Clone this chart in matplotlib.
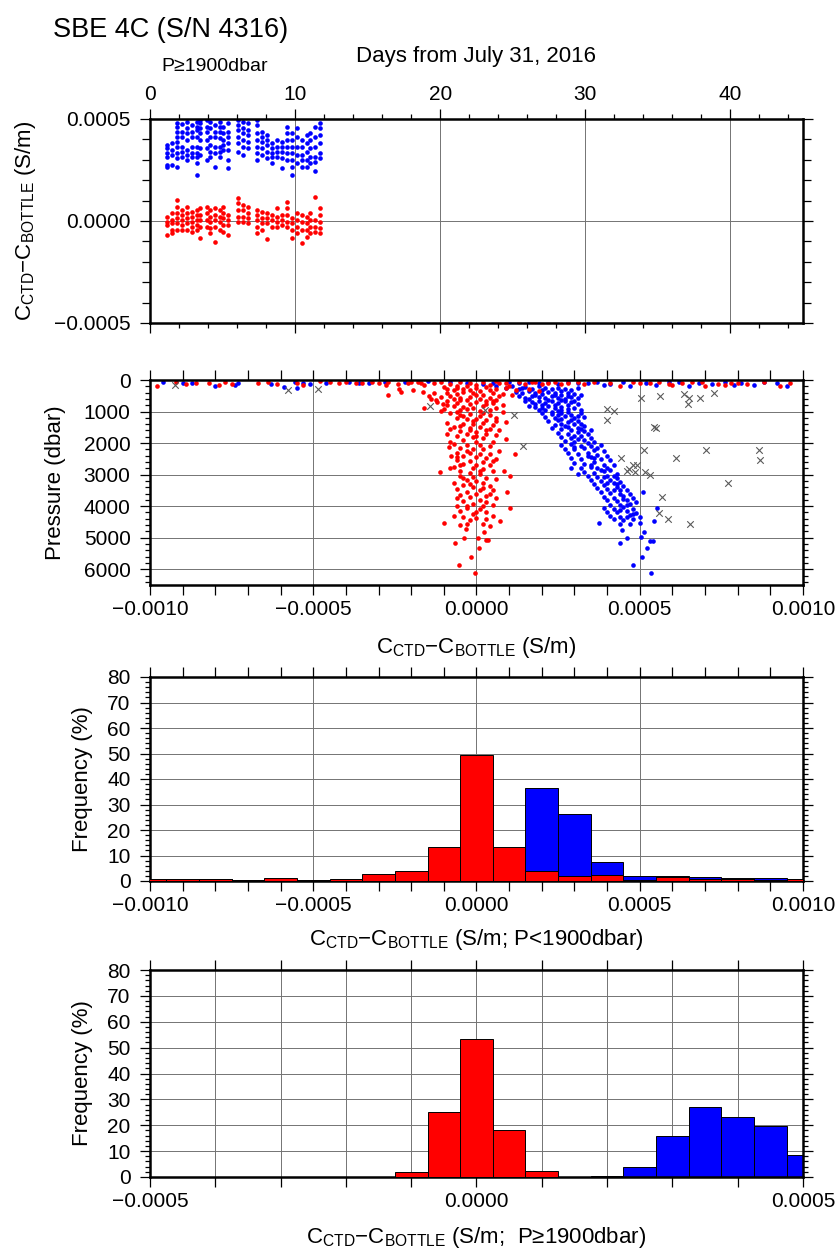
import numpy as np
import matplotlib
matplotlib.use('Agg')
import matplotlib.pyplot as plt
from matplotlib.ticker import MultipleLocator, FuncFormatter

plt.rcParams['font.family'] = ['Liberation Sans', 'DejaVu Sans']
plt.rcParams['mathtext.fontset'] = 'custom'
plt.rcParams['mathtext.rm'] = 'Liberation Sans'
plt.rcParams['mathtext.it'] = 'Liberation Sans:italic'
plt.rcParams['mathtext.bf'] = 'Liberation Sans:bold'

# %% data  (conductivity differences in 1e-4 S/m, pressure in dbar)

# panel 1: deep bottles (P >= 1900 dbar) per station, days from July 31, 2016
st_days = [1.15, 1.5, 1.84, 2.18, 2.53, 2.87, 3.22, 3.45, 3.91, 4.14, 4.48,
           4.83, 5.06, 5.40, 6.09, 6.44, 6.78, 7.36, 7.70, 8.05, 8.39, 8.74,
           9.08, 9.43, 9.77, 10.11, 10.46, 10.80, 11.03, 11.38, 11.72]
blue_deep = [
    [3.73, 3.56, 3.32, 3.15, 2.75, 2.63], [3.81, 3.48, 3.24, 2.75],
    [4.82, 4.62, 4.38, 4.13, 3.89, 3.64, 3.32, 3.07, 2.66],
    [4.75, 4.38, 4.13, 3.64, 3.40, 3.15], [4.87, 4.54, 4.30, 3.97, 3.48, 3.24, 2.99],
    [4.70, 4.38, 4.13, 3.64, 3.32, 3.15], [4.87, 4.62, 4.46, 4.13, 3.64, 3.32, 3.15, 2.83, 2.25],
    [4.95, 4.79, 4.54, 4.30, 3.97, 3.56, 3.24], [4.95, 4.62, 4.38, 3.97, 3.56, 2.99],
    [4.87, 4.54, 4.13, 3.73, 3.40, 3.15], [4.70, 4.38, 4.13, 3.64, 3.32, 2.66],
    [4.87, 4.62, 4.38, 4.05, 3.64, 3.40, 3.15], [4.62, 4.30, 3.97, 3.73, 3.48],
    [4.79, 4.38, 4.13, 3.81, 3.48, 2.99, 2.58], [4.95, 4.70, 4.46, 4.13, 3.81, 3.40],
    [4.87, 4.54, 4.30, 3.97, 3.64, 3.24], [4.79, 4.46, 4.21, 3.89, 3.56],
    [4.95, 4.70, 4.30, 3.97, 3.64, 3.32, 2.99], [4.38, 4.13, 3.89, 3.56, 3.24],
    [4.21, 3.97, 3.73, 3.40, 3.07], [3.81, 3.56, 3.32, 3.15, 2.83],
    [3.97, 3.64, 3.40, 3.15], [3.89, 3.64, 3.40, 3.07, 2.58],
    [4.62, 4.30, 3.97, 3.64, 3.32, 2.99], [4.30, 3.97, 3.64, 3.32, 2.99, 2.66, 2.25],
    [4.54, 4.13, 3.64, 3.24, 2.83], [3.97, 3.64, 3.24, 2.99, 2.66],
    [4.21, 3.81, 3.40, 2.99, 2.66], [4.30, 3.97, 3.56, 3.15, 2.83],
    [4.62, 4.13, 3.64, 3.15, 2.91, 2.47], [4.79, 4.54, 4.21, 3.81, 3.32, 3.07],
]
red_deep = [
    [0.21, -0.03, -0.20, -0.69], [0.38, 0.05, -0.11, -0.44, -0.60],
    [1.03, 0.70, 0.38, 0.13, -0.11, -0.44], [0.54, 0.29, 0.05, -0.20, -0.44],
    [0.70, 0.38, 0.13, -0.11, -0.44], [0.46, 0.21, -0.03, -0.28, -0.52],
    [0.54, 0.29, 0.05, -0.20, -0.44], [0.62, 0.29, 0.05, -0.28, -0.85],
    [0.70, 0.38, 0.05, -0.28], [0.54, 0.21, -0.03, -0.36, -0.60],
    [0.62, 0.29, 0.05, -0.28, -1.01], [0.54, 0.21, -0.03, -0.44],
    [0.70, 0.38, 0.13, -0.20, -0.52], [0.29, 0.05, -0.20, -0.69],
    [1.11, 0.87, 0.54, 0.21, -0.03], [0.78, 0.54, 0.21, -0.03],
    [0.70, 0.38, 0.13, -0.11], [0.54, 0.29, 0.05, -0.28, -0.60],
    [0.46, 0.13, -0.11, -0.44], [0.38, 0.13, -0.11, -0.90],
    [0.29, 0.05, -0.28], [0.62, 0.21, -0.03, -0.28], [0.29, 0.05, -0.20],
    [0.95, 0.62, 0.29, -0.03, -0.28], [0.13, -0.11, -0.44, -0.85],
    [0.38, 0.05, -0.28, -0.60], [0.29, -0.03, -0.44, -1.09],
    [0.21, -0.11, -0.44, -0.77], [0.38, 0.05, -0.28, -0.60],
    [1.20, 0.05, -0.28, -0.52], [0.62, 0.29, -0.03, -0.36, -0.60],
]

# panel 2: (dC, pressure) for all bottles
red_obs = [
    # near surface
    (-9.8, 200), (-9.2, 60), (-8.9, 140), (-8.6, 90), (-8.2, 110), (-7.9, 150), (-7.7, 60),
    (-7.5, 120), (-6.7, 90), (-6.4, 60), (-6.1, 130), (-5.5, 100), (-5.3, 150), (-4.8, 40),
    (-4.5, 70), (-4.0, 60), (-3.7, 90), (-3.2, 60), (-3.0, 100), (-2.7, 50), (-2.4, 120),
    (-2.1, 80), (-1.8, 60), (-1.6, 160), (-1.3, 90), (0.6, 40), (0.9, 100), (1.3, 70),
    (1.7, 50), (2.0, 120), (2.4, 60), (2.8, 90), (3.3, 130), (3.6, 60), (4.1, 80),
    (4.4, 180), (4.8, 60), (5.3, 110), (5.6, 70), (6.0, 150), (6.3, 90), (6.6, 60),
    (7.0, 200), (7.4, 120), (7.8, 80), (8.3, 140), (8.8, 60), (9.3, 180), (9.6, 100),
    (-2.0, 50), (-1.7, 90), (-1.1, 60), (-0.8, 120), (-0.5, 70), (-0.2, 100), (0.2, 60),
    (0.4, 150), (0.7, 90), (1.0, 180), (1.5, 120), (1.8, 60), (2.2, 100), (2.6, 140),
    (3.1, 60), (5.0, 90), (5.9, 120), (6.9, 60), (7.6, 160), (8.0, 90), (-0.6, 180),
    (0.0, 150), (-1.0, 220), (-3.5, 80), (-4.2, 110),
    # 100-1000 dbar
    (-2.77, 147), (-2.37, 275), (-1.96, 328), (-1.65, 380), (-1.45, 508), (-1.25, 645),
    (-1.04, 750), (-1.09, 995), (-2.7, 460), (-2.3, 380),
    (-0.9, 300), (-0.6, 250), (-0.3, 200), (0.0, 260), (0.3, 220), (0.6, 300), (0.9, 250),
    (1.2, 320), (1.6, 280), (1.9, 350), (-1.3, 420), (-0.9, 400), (-0.6, 450), (-0.4, 380),
    (-0.1, 420), (0.2, 460), (0.5, 400), (0.8, 440), (1.1, 470), (-1.1, 550), (-0.8, 520),
    (-0.5, 580), (-0.2, 540), (0.1, 600), (0.4, 560), (0.7, 520), (-0.3, 640), (0.3, 680),
    (-1.2, 700), (-0.9, 680), (-0.6, 720), (-0.2, 760), (0.0, 700), (0.5, 740), (0.8, 780),
    (-0.7, 820), (-0.4, 860), (-0.1, 880), (0.2, 840), (0.6, 900), (-1.0, 920), (-0.5, 960),
    (0.1, 990), (0.4, 950), (-1.6, 900), (-0.2, 330), (0.1, 350), (-0.5, 640), (0.6, 620),
    (-0.7, 330), (-0.4, 280), (0.4, 330), (-1.4, 600), (-0.7, 600), (0.0, 480), (0.5, 650),
    (-0.9, 800), (0.3, 760), (-0.3, 920), (0.8, 1000),
    # 1000-2000 dbar
    (-0.8, 1050), (-0.5, 1100), (-0.2, 1080), (0.1, 1150), (0.4, 1120), (-0.6, 1200),
    (-0.3, 1250), (0.0, 1230), (0.3, 1280), (0.6, 1200), (-0.9, 1350), (-0.4, 1380),
    (-0.1, 1400), (0.2, 1360), (0.5, 1420), (0.9, 1330), (-0.7, 1480), (-0.2, 1520),
    (0.1, 1500), (0.4, 1550), (0.7, 1600), (-0.5, 1620), (-0.8, 1545), (0.0, 1650),
    (-0.3, 1700), (0.3, 1720), (0.6, 1750), (-0.6, 1780), (-0.1, 1820), (0.2, 1850),
    (0.9, 1865), (-0.4, 1900), (0.0, 1950), (-0.8, 1960), (0.5, 1980),
    (-0.6, 1030), (0.2, 1050), (-0.1, 1300), (-0.5, 1450), (0.3, 1600), (-0.2, 1600),
    (-0.4, 1150), (0.0, 1780), (-0.9, 1700), (0.6, 1300),
    # 2000-3000 dbar
    (-0.7, 2030), (-0.3, 2060), (0.1, 2050), (0.4, 2100), (-0.5, 2150), (-0.1, 2180),
    (0.2, 2200), (-0.84, 2130), (0.7, 2250), (-0.6, 2300), (-0.2, 2320), (0.1, 2350),
    (1.18, 2360), (-0.79, 2395), (-0.4, 2420), (0.0, 2450), (0.3, 2480), (0.59, 2500),
    (-0.6, 2540), (-0.2, 2580), (0.2, 2600), (-0.4, 2650), (0.0, 2680), (0.4, 2700),
    (-0.7, 2750), (-0.1, 2780), (0.2, 2820), (0.84, 2870), (-0.5, 2880), (-1.12, 2925),
    (-0.2, 2950), (0.1, 2970), (1.04, 3030), (0.5, 2900), (-0.8, 2800),
    (-0.6, 2450), (0.4, 2350), (-0.3, 2250), (0.5, 2560), (-0.5, 2700), (0.1, 2880),
    # 3000-4000 dbar
    (-0.5, 3050), (-0.1, 3080), (0.3, 3100), (0.6, 3150), (-0.3, 3180), (0.0, 3200),
    (-0.7, 3250), (0.2, 3280), (-0.4, 3320), (0.4, 3350), (-0.1, 3400), (0.94, 3550),
    (-0.6, 3450), (0.1, 3480), (0.5, 3500), (-0.3, 3550), (0.0, 3600), (-0.5, 3650),
    (0.3, 3680), (-0.2, 3720), (0.6, 3750), (0.1, 3800), (-0.4, 3850), (0.3, 3880),
    (-0.1, 3920), (0.5, 3950), (-0.6, 3980),
    (-0.4, 3100), (0.2, 3420), (-0.2, 3300), (0.4, 3620), (-0.6, 3750), (-0.3, 4000),
    (0.2, 3980),
    # below 4000 dbar
    (1.04, 4060), (-0.3, 4050), (0.1, 4100), (-0.5, 4150), (0.3, 4180), (-0.1, 4250),
    (0.5, 4300), (-0.4, 4350), (0.0, 4380), (0.72, 4480), (-0.99, 4520), (-0.2, 4450),
    (0.2, 4550), (-0.5, 4600), (0.4, 4620), (-0.33, 4720), (0.24, 4820), (-0.37, 5010),
    (0.05, 5010), (0.28, 5080), (0.35, 5080), (-0.66, 5170), (0.08, 5330), (-0.17, 5600),
    (-0.55, 5860), (-0.06, 6126), (0.0, 4200), (-0.7, 4300), (0.3, 4400), (-0.3, 4550),
]
blue_obs = [
    # near surface
    (-9.6, 60), (-9.0, 80), (-8.7, 110), (-8.0, 200), (-7.4, 150), (-7.3, 90), (-6.3, 120),
    (-5.9, 230), (-5.55, 60), (-5.5, 250), (-5.3, 100), (-5.1, 140), (-4.6, 80), (-3.9, 60),
    (-3.6, 110), (-3.3, 90), (-2.8, 50), (-2.2, 70), (-1.5, 40), (-0.8, 60), (0.5, 80),
    (1.0, 50), (1.3, 100), (3.4, 90), (4.1, 120), (4.5, 60), (4.7, 180), (5.2, 90),
    (5.5, 150), (5.9, 60), (6.5, 200), (6.8, 80), (7.2, 130), (7.6, 60), (8.1, 100),
    (8.5, 160), (8.8, 60), (9.2, 80), (9.5, 190),
    (1.6, 60), (1.9, 100), (2.2, 50), (2.5, 130), (2.8, 70), (3.1, 110), (3.7, 60),
    (3.9, 170), (-0.3, 110), (0.2, 140), (6.2, 70), (7.9, 150),
    # 100-1000 dbar
    (0.6, 200), (0.9, 250), (1.1, 180), (1.3, 300), (1.5, 220), (1.7, 280), (1.9, 200),
    (2.1, 260), (2.3, 300), (2.5, 240), (2.7, 280), (2.9, 330), (3.1, 260),
    (1.2, 380), (1.4, 420), (1.6, 360), (1.8, 400), (2.0, 440), (2.2, 380), (2.4, 420),
    (2.6, 460), (2.8, 400), (3.0, 430), (3.2, 480), (1.3, 520), (1.5, 560), (1.7, 500),
    (1.9, 540), (2.1, 580), (2.3, 520), (2.5, 560), (2.7, 600), (2.9, 540), (3.1, 580),
    (1.5, 650), (1.7, 700), (1.9, 660), (2.1, 720), (2.3, 680), (2.5, 740), (2.7, 660),
    (2.9, 700), (3.1, 760), (2.0, 800), (1.6, 820), (1.8, 860), (2.2, 840), (2.4, 900),
    (2.6, 860), (2.8, 920), (3.0, 880), (2.1, 960), (2.5, 990), (1.9, 940),
    (1.4, 250), (2.0, 320), (2.6, 350), (1.8, 470), (2.4, 490), (2.8, 500), (1.6, 600),
    (2.2, 630), (2.6, 640), (3.0, 650), (1.8, 760), (2.4, 780), (2.8, 800), (2.0, 900),
    (2.6, 940), (3.2, 960), (2.3, 1000), (2.8, 1010),
    # 1000-2000 dbar
    (2.0, 1050), (2.3, 1080), (2.6, 1040), (2.9, 1100), (3.2, 1060), (2.1, 1160),
    (2.4, 1200), (2.7, 1150), (3.0, 1220), (3.3, 1180), (2.2, 1300), (2.5, 1280),
    (2.8, 1340), (3.1, 1300), (2.4, 1420), (2.7, 1450), (3.0, 1400), (3.3, 1460),
    (2.3, 1520), (2.6, 1560), (2.9, 1600), (3.2, 1540), (3.5, 1580), (2.5, 1680),
    (2.8, 1700), (3.1, 1650), (3.4, 1720), (2.6, 1800), (2.9, 1830), (3.2, 1780),
    (3.5, 1850), (2.7, 1920), (3.0, 1950), (3.3, 1900), (3.6, 1970),
    (2.5, 1120), (3.1, 1130), (2.6, 1240), (2.9, 1260), (2.6, 1380), (3.2, 1380),
    (2.8, 1500), (3.1, 1520), (3.0, 1760), (3.3, 1620), (3.1, 1880),
    # 2000-3000 dbar
    (2.6, 2050), (2.9, 2030), (3.2, 2080), (3.5, 2100), (3.8, 2060), (2.7, 2180),
    (3.0, 2200), (3.3, 2150), (3.6, 2220), (3.9, 2250), (2.8, 2320), (3.1, 2350),
    (3.4, 2300), (3.7, 2380), (4.0, 2400), (2.9, 2460), (3.2, 2500), (3.5, 2450),
    (3.8, 2520), (4.1, 2550), (3.0, 2620), (3.3, 2650), (3.6, 2600), (3.9, 2680),
    (4.2, 2700), (2.9, 2780), (3.2, 2800), (3.5, 2760), (3.8, 2840), (4.1, 2860),
    (3.3, 2920), (3.6, 2950), (3.9, 2900), (4.3, 2980), (3.1, 2990),
    (3.4, 2000), (3.0, 2120), (3.7, 2150), (3.4, 2420), (3.6, 2480), (3.5, 2700),
    (3.7, 2800), (4.0, 2780),
    # 3000-4000 dbar
    (3.4, 3050), (3.7, 3080), (4.0, 3030), (4.3, 3100), (3.5, 3180), (3.8, 3200),
    (4.1, 3160), (4.4, 3220), (3.6, 3300), (3.9, 3330), (4.2, 3280), (4.5, 3350),
    (3.7, 3420), (4.0, 3450), (4.3, 3400), (4.6, 3480), (5.11, 3550), (3.8, 3550),
    (4.1, 3580), (4.4, 3620), (4.7, 3600), (3.9, 3700), (4.2, 3730), (4.5, 3680),
    (4.8, 3750), (4.0, 3820), (4.3, 3850), (4.6, 3800), (4.9, 3880), (4.1, 3950),
    (4.4, 3970), (4.7, 3930),
    (3.9, 3080), (4.2, 3050), (4.0, 3260), (4.3, 3300), (4.4, 3500), (4.2, 3480),
    (4.5, 3780), (4.6, 3950),
    # below 4000 dbar
    (3.9, 4050), (4.2, 4080), (4.5, 4030), (4.8, 4100), (5.54, 4060), (4.0, 4180),
    (4.3, 4200), (4.6, 4160), (4.9, 4220), (4.1, 4300), (4.4, 4330), (4.7, 4280),
    (5.0, 4350), (4.2, 4420), (4.5, 4450), (4.8, 4400), (5.45, 4480), (3.74, 4520),
    (4.4, 4550), (4.7, 4580), (5.0, 4530), (4.45, 4750), (5.14, 4820), (5.04, 4990),
    (4.6, 5010), (5.32, 5090), (5.4, 5090), (4.4, 5170), (5.22, 5330), (5.06, 5600),
    (4.78, 5860), (5.35, 6126), (4.4, 4120), (4.6, 4350), (4.8, 4250),
]
# flagged (rejected) bottles
bad_obs = [
    (5.04, 560), (5.61, 518), (6.35, 455), (6.50, 560), (6.48, 773), (6.86, 560),
    (7.26, 423), (3.99, 922), (4.20, 986), (3.99, 1259), (5.45, 1494), (5.50, 1536),
    (5.12, 2213), (7.03, 2213), (8.66, 2213), (8.69, 2544), (6.10, 2480), (4.42, 2480),
    (4.92, 2690), (4.80, 2700), (4.68, 2817), (4.60, 2871), (4.86, 2903), (5.17, 2903),
    (5.32, 3021), (7.69, 3262), (5.67, 3707), (5.60, 4216), (5.85, 4397), (6.54, 4566),
    (-1.42, 827), (0.26, 963), (1.15, 1122), (1.43, 2086), (-9.22, 146), (-5.78, 328),
    (-4.86, 296),
]

# panels 3 and 4: frequency (%) per bin
bins_shallow = np.arange(-10, 11)            # bin centres, 1e-4 S/m
red_shallow = [0.6, 0.6, 0.6, 0.4, 1.2, 0.5, 0.9, 2.9, 3.8, 13.5, 49.5,
               13.2, 4.0, 1.8, 2.5, 0.5, 1.4, 0.8, 0.6, 0.5, 0.6]
blue_shallow = [0.2, 0.3, 0.6, 0.2, 0.3, 0.4, 0.5, 1.0, 1.5, 3.0, 5.0,
                8.0, 36.3, 26.2, 7.5, 2.0, 1.8, 1.4, 1.0, 1.0, 0.6]
bins_deep = np.arange(-50, 55, 5)            # bin centres, 1e-5 S/m
red_deep_hist = [0, 0, 0, 0, 0, 0, 0, 0, 2.0, 25.0, 53.2, 18.3, 2.2,
                 0, 0, 0, 0, 0, 0, 0, 0]
blue_deep_hist = [0, 0, 0, 0, 0, 0, 0, 0, 0, 0, 0, 0, 0, 0,
                  0.4, 3.9, 16.0, 27.2, 23.3, 19.6, 8.6]

# %% plotting
RED, BLUE = '#ff0000', '#0000ff'
LBL = r'$\mathregular{C_{CTD}{-}C_{BOTTLE}}$'


def fmt4(v, pos):
    s = f'{v:.4f}'
    if s == '-0.0000':
        s = '0.0000'
    return s.replace('-', '\u2212')


def fmt_major5(v, pos):
    if abs(round(v / 5e-4) * 5e-4 - v) < 1e-9:
        return fmt4(v, pos)
    return ''


def style(ax):
    for s in ax.spines.values():
        s.set_linewidth(1.8)
    ax.tick_params(which='both', direction='out', top=True, right=True,
                   width=0.9, labelsize=15)
    ax.tick_params(which='major', length=7)
    ax.tick_params(which='minor', length=3.5)
    ax.tick_params(axis='y', pad=7)
    ax.tick_params(axis='x', pad=4)
    ax.set_axisbelow(True)
    ax.grid(True, which='major', color='0.45', lw=0.7)


fig = plt.figure(figsize=(8.39, 12.57), dpi=100)
L, W = 150 / 839, 653 / 839

# panel 1
ax1 = fig.add_axes([L, 1 - 323 / 1257, W, 204 / 1257])
bx = [d for d, v in zip(st_days, blue_deep) for _ in v]
by = [x * 1e-4 for v in blue_deep for x in v]
rx = [d for d, v in zip(st_days, red_deep) for _ in v]
ry = [x * 1e-4 for v in red_deep for x in v]
ax1.scatter(bx, by, s=11, c=BLUE, linewidths=0)
ax1.scatter(rx, ry, s=11, c=RED, linewidths=0)
ax1.set_xlim(0, 45)
ax1.set_ylim(-0.0005, 0.0005)
ax1.xaxis.set_major_locator(MultipleLocator(10))
ax1.xaxis.set_minor_locator(MultipleLocator(2))
ax1.yaxis.set_major_locator(MultipleLocator(0.0005))
ax1.yaxis.set_minor_locator(MultipleLocator(0.0001))
ax1.yaxis.set_major_formatter(FuncFormatter(fmt4))
style(ax1)
ax1.tick_params(which='minor', axis='y', length=6)
ax1.tick_params(labeltop=True, labelbottom=False)
ax1.xaxis.set_label_position('top')
ax1.set_xlabel('Days from July 31, 2016', fontsize=16, va='center')
ax1.xaxis.set_label_coords(0.5, 1.304)
ax1.set_ylabel(LBL + ' (S/m)', fontsize=16, va='center')
ax1.yaxis.set_label_coords(-0.191, 0.5)
ax1.text(0.0995, 1.255, 'P\u22651900dbar', transform=ax1.transAxes,
         fontsize=14, ha='center', va='center')
fig.text(53 / 839, 1 - 30 / 1257, 'SBE 4C (S/N 4316)', fontsize=19.5,
         ha='left', va='center')

# panel 2
ax2 = fig.add_axes([L, 1 - 585 / 1257, W, 205 / 1257])
bo = np.array(blue_obs)
ro = np.array(red_obs)
xo = np.array(bad_obs)
ax2.scatter(bo[:, 0] * 1e-4, bo[:, 1], s=11, c=BLUE, linewidths=0)
ax2.scatter(ro[:, 0] * 1e-4, ro[:, 1], s=11, c=RED, linewidths=0)
ax2.scatter(xo[:, 0] * 1e-4, xo[:, 1], s=22, marker='x', c='0.35', linewidths=0.8)
ax2.set_xlim(-0.001, 0.001)
ax2.set_ylim(6500, 0)
ax2.xaxis.set_major_locator(MultipleLocator(0.0005))
ax2.xaxis.set_minor_locator(MultipleLocator(0.0001))
ax2.xaxis.set_major_formatter(FuncFormatter(fmt4))
ax2.yaxis.set_major_locator(MultipleLocator(1000))
ax2.yaxis.set_minor_locator(MultipleLocator(200))
style(ax2)
ax2.tick_params(which='minor', axis='x', length=7)
ax2.set_ylabel('Pressure (dbar)', fontsize=16, va='center')
ax2.yaxis.set_label_coords(-0.145, 0.5)
ax2.set_xlabel(LBL + ' (S/m)', fontsize=16, va='center')
ax2.xaxis.set_label_coords(0.5, -0.307)

# panel 3
ax3 = fig.add_axes([L, 1 - 881 / 1257, W, 204 / 1257])
ax3.bar(bins_shallow * 1e-4, blue_shallow, width=1e-4, color=BLUE,
        edgecolor='black', linewidth=0.7, zorder=2)
ax3.bar(bins_shallow * 1e-4, red_shallow, width=1e-4, color=RED,
        edgecolor='black', linewidth=0.7, zorder=3)
ax3.set_xlim(-0.001, 0.001)
ax3.set_ylim(0, 80)
ax3.xaxis.set_major_locator(MultipleLocator(0.0005))
ax3.xaxis.set_minor_locator(MultipleLocator(0.0001))
ax3.xaxis.set_major_formatter(FuncFormatter(fmt4))
ax3.yaxis.set_major_locator(MultipleLocator(10))
ax3.yaxis.set_minor_locator(MultipleLocator(2))
style(ax3)
ax3.tick_params(which='minor', axis='x', length=7)
ax3.set_ylabel('Frequency (%)', fontsize=16, va='center')
ax3.yaxis.set_label_coords(-0.104, 0.5)
ax3.set_xlabel(LBL + ' (S/m; P<1900dbar)', fontsize=16, va='center')
ax3.xaxis.set_label_coords(0.5, -0.289)

# panel 4
ax4 = fig.add_axes([L, 1 - 1177 / 1257, W, 207 / 1257])
ax4.bar(bins_deep * 1e-5, blue_deep_hist, width=5e-5, color=BLUE,
        edgecolor='black', linewidth=0.7, zorder=2)
ax4.bar(bins_deep * 1e-5, red_deep_hist, width=5e-5, color=RED,
        edgecolor='black', linewidth=0.7, zorder=3)
ax4.set_xlim(-0.0005, 0.0005)
ax4.set_ylim(0, 80)
ax4.xaxis.set_major_locator(MultipleLocator(0.0001))
ax4.xaxis.set_major_formatter(FuncFormatter(fmt_major5))
ax4.yaxis.set_major_locator(MultipleLocator(10))
ax4.yaxis.set_minor_locator(MultipleLocator(2))
style(ax4)
ax4.set_ylabel('Frequency (%)', fontsize=16, va='center')
ax4.yaxis.set_label_coords(-0.104, 0.5)
ax4.set_xlabel(LBL + ' (S/m;  P\u22651900dbar)', fontsize=16, va='center')
ax4.xaxis.set_label_coords(0.5, -0.29)

fig.savefig('out.png', dpi=100)
